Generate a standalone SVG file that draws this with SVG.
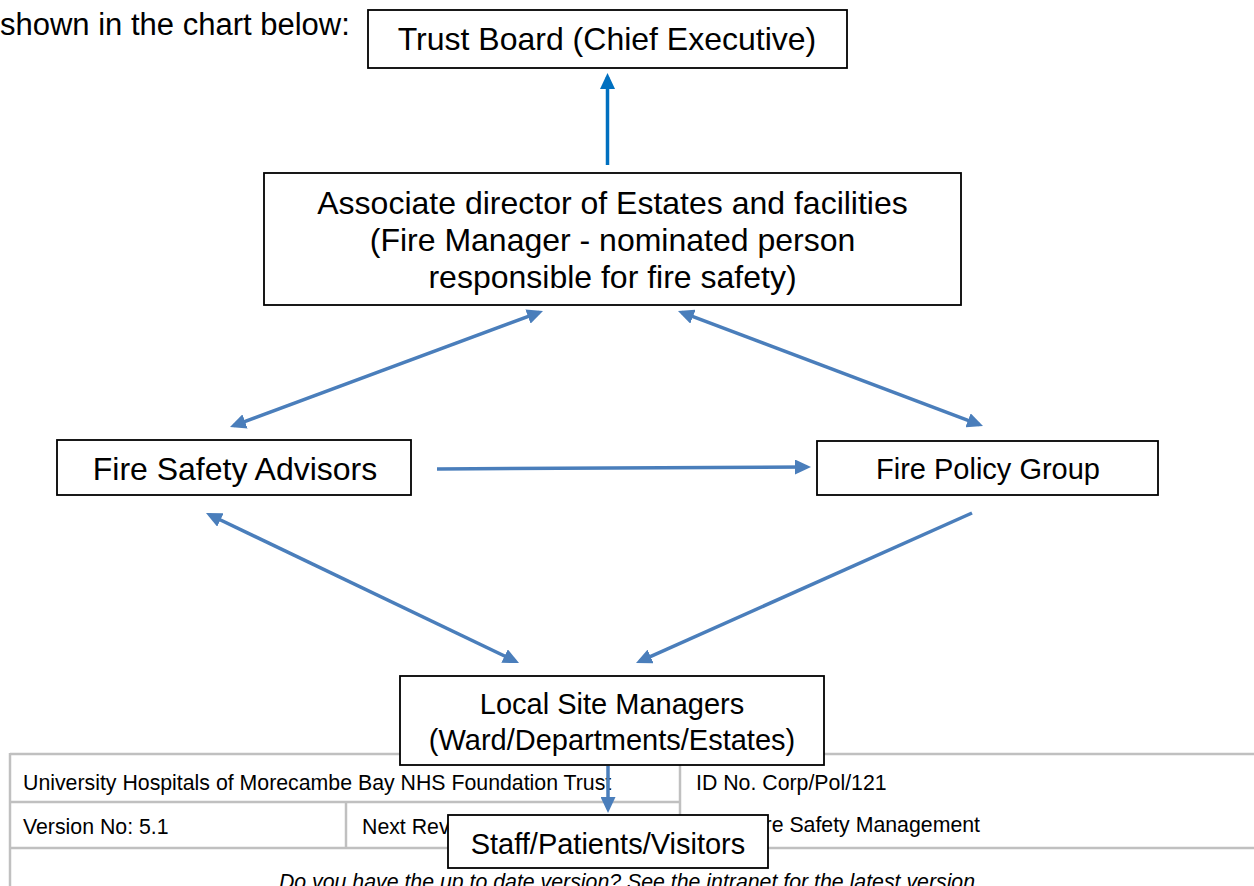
<svg xmlns="http://www.w3.org/2000/svg" width="1254" height="886" viewBox="0 0 1254 886">
  <style>
    .box { fill: #ffffff; stroke: #000000; stroke-width: 1.8; }
    .lbl { font-family: "Liberation Sans", Arial, sans-serif; fill: #000000; text-anchor: middle; }
    .big { font-size: 32px; }
    .mid { font-size: 29px; }
    .body { font-family: "Liberation Sans", Arial, sans-serif; font-size: 31px; fill: #000000; }
    .foot { font-family: "Liberation Sans", Arial, sans-serif; font-size: 21.3px; fill: #000000; }
    .rule { stroke: #c0c0c0; stroke-width: 2.5; fill: none; }
    .conn { fill: none; stroke: #4a7ebb; stroke-width: 3.5; }
    .conn-top { fill: none; stroke: #0070c0; stroke-width: 3.5; }
  </style>
  <defs>
    <marker id="head" markerUnits="userSpaceOnUse" markerWidth="16" markerHeight="15" refX="12" refY="7.5" orient="auto-start-reverse">
      <path d="M0,0 L16,7.5 L0,15 z" fill="#4a7ebb"/>
    </marker>
    <marker id="head-top" markerUnits="userSpaceOnUse" markerWidth="16" markerHeight="15" refX="12" refY="7.5" orient="auto-start-reverse">
      <path d="M0,0 L16,7.5 L0,15 z" fill="#0070c0"/>
    </marker>
  </defs>

  <rect width="1254" height="886" fill="#ffffff"/>

  <!-- running text above the chart -->
  <text class="body" x="0" y="35">shown in the chart below:</text>

  <!-- document footer table -->
  <g id="footer">
    <line class="rule" x1="10" y1="754" x2="1254" y2="754"/>
    <line class="rule" x1="10" y1="753" x2="10" y2="886"/>
    <line class="rule" x1="10" y1="802" x2="680" y2="802"/>
    <line class="rule" x1="680" y1="754" x2="680" y2="848"/>
    <line class="rule" x1="346" y1="802" x2="346" y2="848"/>
    <line class="rule" x1="10" y1="848" x2="1254" y2="848"/>
    <text class="foot" x="23" y="790">University Hospitals of Morecambe Bay NHS Foundation Trust</text>
    <text class="foot" x="696" y="790">ID No. Corp/Pol/121</text>
    <text class="foot" x="23" y="834">Version No: 5.1</text>
    <text class="foot" x="362" y="834">Next Rev</text>
    <text class="foot" x="980" y="832" text-anchor="end">Fire Safety Management</text>
    <text class="foot" x="627" y="889" text-anchor="middle" font-style="italic">Do you have the up to date version? See the intranet for the latest version</text>
  </g>

  <!-- connectors -->
  <g id="connectors">
    <path class="conn-top" d="M607.5,165 L607.5,77" marker-end="url(#head-top)"/>
    <path class="conn" d="M539.25,312.39 L233.75,425.61" marker-start="url(#head)" marker-end="url(#head)"/>
    <path class="conn" d="M681.74,312.41 L979.26,424.59" marker-start="url(#head)" marker-end="url(#head)"/>
    <path class="conn" d="M437,469 L807,467" marker-end="url(#head)"/>
    <path class="conn" d="M209.6,514.73 L515.4,661.27" marker-start="url(#head)" marker-end="url(#head)"/>
    <path class="conn" d="M972,513 L639.65,661.37" marker-end="url(#head)"/>
    <path class="conn" d="M608,766 L608,809" marker-end="url(#head)"/>
  </g>

  <g id="trust-board">
    <rect class="box" x="368" y="10" width="479" height="58"/>
    <text class="lbl big" x="607" y="50">Trust Board (Chief Executive)</text>
  </g>

  <g id="associate-director">
    <rect class="box" x="264" y="173" width="697" height="132"/>
    <text class="lbl big" x="612.5" y="214">Associate director of Estates and facilities</text>
    <text class="lbl big" x="612.5" y="251">(Fire Manager - nominated person</text>
    <text class="lbl big" x="612.5" y="288">responsible for fire safety)</text>
  </g>

  <g id="fire-safety-advisors">
    <rect class="box" x="57" y="440" width="354" height="55"/>
    <text class="lbl big" x="235" y="480">Fire Safety Advisors</text>
  </g>

  <g id="fire-policy-group">
    <rect class="box" x="817" y="441" width="341" height="54"/>
    <text class="lbl mid" x="988" y="479">Fire Policy Group</text>
  </g>

  <g id="local-site-managers">
    <rect class="box" x="400" y="676" width="424" height="89"/>
    <text class="lbl mid" x="612" y="714">Local Site Managers</text>
    <text class="lbl mid" x="612" y="750">(Ward/Departments/Estates)</text>
  </g>

  <g id="staff-patients-visitors">
    <rect class="box" x="448" y="815" width="320" height="53"/>
    <text class="lbl mid" x="608" y="854">Staff/Patients/Visitors</text>
  </g>
</svg>
